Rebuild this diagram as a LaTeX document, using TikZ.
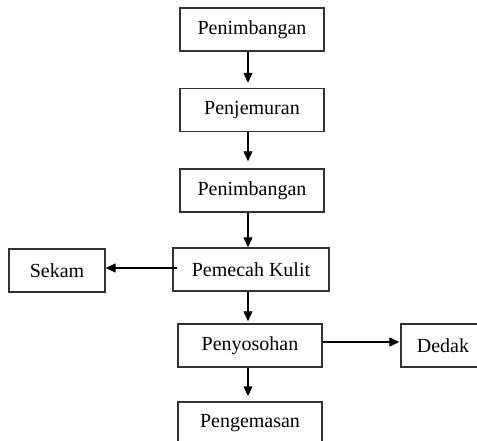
\documentclass[tikz,border=0pt]{standalone}
\usepackage{fontspec}
\setmainfont{Liberation Serif}
\usetikzlibrary{arrows.meta}
\begin{document}
\begin{tikzpicture}[x=1pt,y=-1pt,
  box/.style={draw=black!80, line width=1.4pt, fill=white, minimum height=43pt,
    inner sep=0pt, font=\fontsize{20}{24}\selectfont},
  flow/.style={line width=1.2pt, -{Triangle[length=10pt,width=9pt]}}]
\useasboundingbox (0,0) rectangle (477,441);
\clip (0,0) rectangle (477,441);
\fill[white] (0,0) rectangle (477,441);
\node[box, minimum width=144pt] (b1) at (252,29.5) {Penimbangan};
\node[box, minimum width=144pt] (b2) at (252,110) {Penjemuran};
\node[box, minimum width=144pt] (b3) at (252,190.5) {Penimbangan};
\node[box, minimum width=156pt] (pk) at (251,269.5) {Pemecah Kulit};
\node[box, minimum width=96pt] (sk) at (57,270.5) {Sekam};
\node[box, minimum width=144pt] (py) at (250,345.5) {Penyosohan};
\node[box, minimum width=84pt] (dd) at (443,345.5) {Dedak};
\node[box, minimum width=144pt] (pg) at (250,423.5) {Pengemasan};
\draw[flow, shorten >=5pt] ([xshift=-4pt]b1.south) -- ([xshift=-4pt]b2.north);
\draw[flow, shorten >=7pt] ([xshift=-4pt]b2.south) -- ([xshift=-4pt]b3.north);
\draw[flow] ([xshift=-4pt]b3.south) -- ([xshift=-3pt]pk.north);
\draw[flow, shorten >=2pt] ([xshift=-3pt]pk.south) -- ([xshift=-2pt]py.north);
\draw[flow, shorten >=5pt] ([xshift=-2pt]py.south) -- ([xshift=-2pt]pg.north);
\draw[flow] ([xshift=5pt,yshift=1.5pt]pk.west) -- ([yshift=2.5pt]sk.east);
\draw[flow, shorten >=1pt] ([yshift=3.5pt]py.east) -- ([yshift=3.5pt]dd.west);
\end{tikzpicture}
\end{document}
